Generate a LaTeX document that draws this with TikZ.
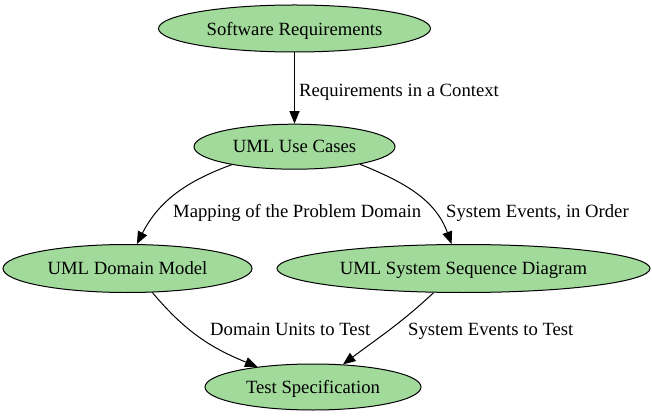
\documentclass[tikz,border=0pt]{standalone}
\usepackage{fontspec}
\setmainfont{Liberation Serif}
\usetikzlibrary{shapes.geometric,arrows.meta}
\definecolor{nodegreen}{RGB}{161,218,155}
\begin{document}
\begin{tikzpicture}[x=1pt,y=-1pt,
  ell/.style={ellipse,draw=black,line width=1pt,fill=nodegreen,inner sep=0pt,text depth=0pt,font=\fontsize{18.67}{22}\selectfont},
  lab/.style={anchor=west,inner sep=0pt,text depth=0pt,font=\fontsize{18.67}{22}\selectfont},
  edge/.style={draw=black,line width=1pt,-{Triangle[length=12.5pt,width=10pt]}}]
\useasboundingbox (0,0) rectangle (652,419);
\node[ell,minimum width=272pt,minimum height=47pt] (sr) at (294.5,28.5) {Software Requirements};
\node[ell,minimum width=201pt,minimum height=45pt] (uc) at (294.5,146.7) {UML Use Cases};
\node[ell,minimum width=249pt,minimum height=48pt] (dm) at (127.5,268.5) {UML Domain Model};
\node[ell,minimum width=373pt,minimum height=48pt] (ssd) at (463.5,268.5) {UML System Sequence Diagram};
\node[ell,minimum width=216pt,minimum height=46pt] (ts) at (313,387) {Test Specification};
\draw[edge] (sr) -- (uc);
\draw[edge] (uc.196) to[out=200,in=63] (dm.69);
\draw[edge] (uc.345) to[out=338,in=110] (ssd.116);
\draw[edge] (dm.316) to[out=310,in=158] (ts.160);
\draw[edge] (ssd.219) to[out=223,in=37] (ts.37);
\node[lab] (l1) at (299,90) {Requirements in a Context};
\node[lab] (l2) at (173,211) {Mapping of the Problem Domain};
\node[lab] (l3) at (446,211) {System Events, in Order};
\node[lab] (l4) at (210,329) {Domain Units to Test};
\node[lab] (l5) at (408,329) {System Events to Test};
\end{tikzpicture}
\end{document}
